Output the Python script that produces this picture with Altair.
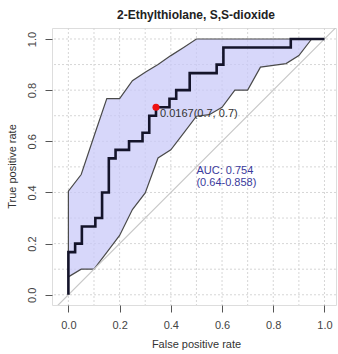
import altair as alt
import pandas as pd

# ---- data ----
N_NEG = 38
N_POS = 30
# ROC staircase: each horizontal segment starts at fp count, sits at tp count
seg_fp_start = [0, 1, 2, 4, 5, 6, 7, 9, 11, 12, 13, 15, 16, 18, 22, 23, 33]
seg_tp = [5, 6, 8, 9, 12, 16, 17, 18, 19, 21, 22, 23, 24, 26, 27, 29, 30]

# confidence band (fpr grid, lower / upper true positive rate)
band_fpr = [0.0, 0.05, 0.10, 0.15, 0.20, 0.25, 0.30, 0.35, 0.40, 0.45, 0.50,
            0.55, 0.60, 0.65, 0.70, 0.75, 0.80, 0.85, 0.90, 0.95, 1.0]
band_lower = [0.07, 0.10, 0.10, 0.166, 0.232, 0.333, 0.398, 0.535, 0.567, 0.632, 0.698,
              0.704, 0.733, 0.80, 0.80, 0.89, 0.897, 0.904, 0.935, 1.0, 1.0]
band_upper = [0.405, 0.47, 0.62, 0.767, 0.767, 0.837, 0.87, 0.90, 0.935, 0.967, 1.0,
              1.0, 1.0, 1.0, 1.0, 1.0, 1.0, 1.0, 1.0, 1.0, 1.0]

grid_vals = [0.0, 0.1, 0.2, 0.3, 0.4, 0.5, 0.6, 0.7, 0.8, 0.9, 1.0]
tick_vals = [0.0, 0.2, 0.4, 0.6, 0.8, 1.0]
diag_vals = [-0.1, 1.1]

thr_fp, thr_tp = 13, 22
thr_label = "0.0167(0.7, 0.7)"
auc_lines = ["AUC: 0.754", "(0.64-0.858)"]
auc_x, auc_y = 0.5, 0.507

title_text = "2-Ethylthiolane, S,S-dioxide"

# ---- tables ----
rows = [{"x": 0.0, "y": 0.0, "o": 0}]
for i, (s, t) in enumerate(zip(seg_fp_start, seg_tp)):
    e = seg_fp_start[i + 1] if i + 1 < len(seg_fp_start) else N_NEG
    rows.append({"x": s / N_NEG, "y": t / N_POS, "o": len(rows)})
    rows.append({"x": e / N_NEG, "y": t / N_POS, "o": len(rows)})
roc_df = pd.DataFrame(rows)
band_df = pd.DataFrame({"x": band_fpr, "y": band_lower, "y2": band_upper})
grid_df = pd.DataFrame({"x": grid_vals, "y": grid_vals})
diag_df = pd.DataFrame({"x": diag_vals, "y": diag_vals})
thr_df = pd.DataFrame({"x": [thr_fp / N_NEG], "y": [thr_tp / N_POS], "lab": [thr_label]})
auc_df = pd.DataFrame({"x": [auc_x], "y": [auc_y]})

FONT = "Liberation Sans"
xs = alt.Scale(domain=[-0.064, 1.045], nice=False, zero=False)
ys = alt.Scale(domain=[-0.04, 1.043], nice=False, zero=False)

xaxis = alt.Axis(values=tick_vals, format=".1f", grid=False, domain=False,
                 tickSize=7, tickColor="#555555", tickWidth=1,
                 labelColor="#444444", labelFontSize=11, labelFont=FONT,
                 labelPadding=7, labelFlush=False, labelOverlap=False,
                 title="False positive rate", titleFont=FONT, titleFontSize=11,
                 titleFontWeight="normal", titleColor="#333333",
                 titleX=144, titleY=33, titleBaseline="top")
yaxis = alt.Axis(values=tick_vals, format=".1f", grid=False, domain=False,
                 tickSize=7, tickColor="#555555", tickWidth=1,
                 labelColor="#444444", labelFontSize=11, labelFont=FONT,
                 labelAngle=270, labelAlign="center", labelBaseline="alphabetic",
                 labelPadding=10, labelFlush=False, labelOverlap=False,
                 title="True positive rate", titleFont=FONT, titleFontSize=11,
                 titleFontWeight="normal", titleColor="#333333",
                 titleAngle=270, titleX=-37, titleY=138, titleBaseline="alphabetic")

X = alt.X("x:Q", scale=xs, axis=xaxis, title="False positive rate")
Y = alt.Y("y:Q", scale=ys, axis=yaxis, title="True positive rate")

grid_v = alt.Chart(grid_df).mark_rule(color="#d6d6d6", strokeDash=[2, 2], strokeWidth=1).encode(x=X)
grid_h = alt.Chart(grid_df).mark_rule(color="#d6d6d6", strokeDash=[2, 2], strokeWidth=1).encode(y=Y)

band = alt.Chart(band_df).mark_area(fill="#c8c8f8", fillOpacity=0.72, stroke="#4a4a4a",
                                    strokeWidth=1.2).encode(x=X, y=Y, y2="y2:Q")

diag = alt.Chart(diag_df).mark_line(color="#c8c8c8", strokeWidth=1.2, clip=True).encode(x=X, y=Y)

roc = alt.Chart(roc_df).mark_line(color="#14142a", strokeWidth=2.6, strokeJoin="miter").encode(
    x=X, y=Y, order="o:Q")

pt = alt.Chart(thr_df).mark_circle(color="#ee1111", opacity=1, size=50).encode(x=X, y=Y)

pt_lab = alt.Chart(thr_df).mark_text(align="left", baseline="middle", dx=4, dy=7,
                                     font=FONT, fontSize=11, color="#333333").encode(
    x=X, y=Y, text="lab:N")

auc = alt.Chart(auc_df).mark_text(align="left", baseline="top", lineHeight=12,
                                  font=FONT, fontSize=11, color="#3a3a9c").encode(
    x=X, y=Y, text=alt.value(auc_lines))

chart = alt.layer(grid_v, grid_h, band, diag, roc, pt, pt_lab, auc).properties(
    width=284, height=277,
    autosize=alt.AutoSizeParams(type="none"),
    padding={"left": 52, "top": 28, "right": 2, "bottom": 49},
    title=alt.TitleParams(title_text, font=FONT, fontSize=12, fontWeight="bold",
                          color="#222222", anchor="middle", offset=6, dx=2),
).configure_view(stroke="#555555", strokeWidth=1.3).configure(background="white")

chart.save("out.html", embed_options={"renderer": "svg", "actions": False})
